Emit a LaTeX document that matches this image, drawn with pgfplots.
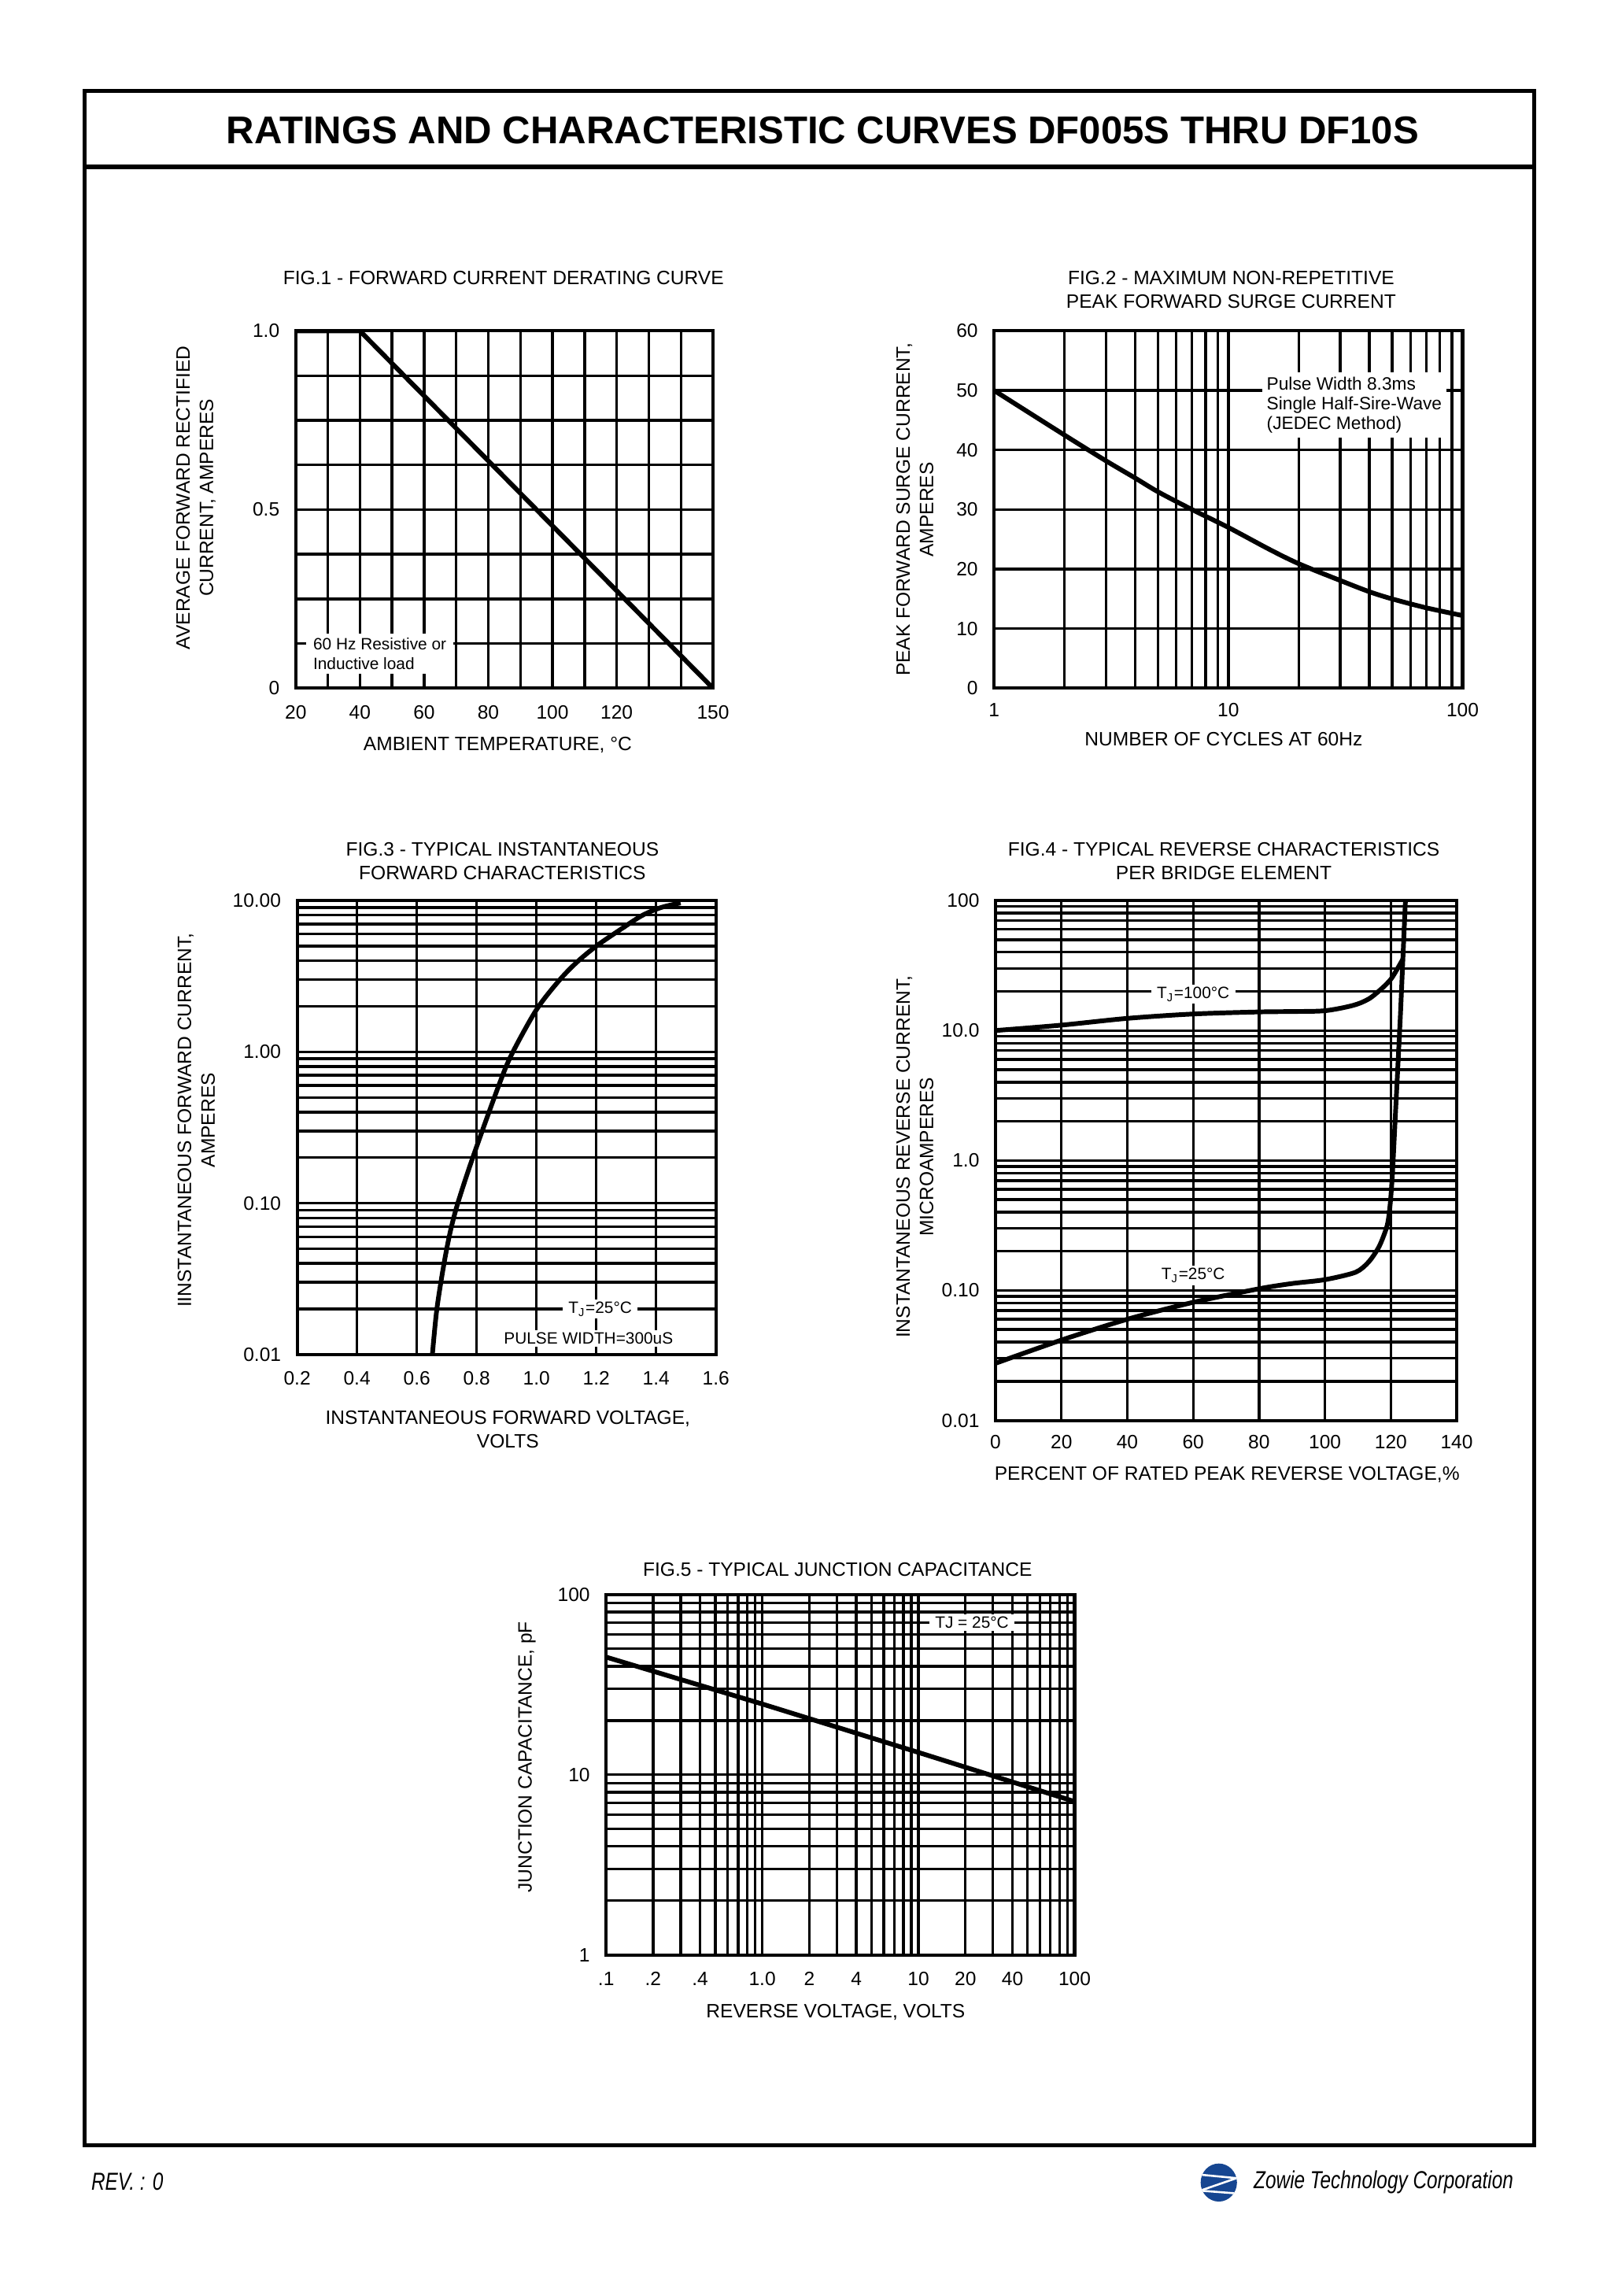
\documentclass[border=0pt]{standalone}
\usepackage{fontspec}
\setmainfont{Liberation Sans}
\newfontfamily\footfont[FakeStretch=0.78]{Liberation Sans}
\usepackage{pgfplots}
\pgfplotsset{compat=1.18}
\newcommand\fa{\fontsize{6.6}{8}\selectfont}
\newcommand\fb{\fontsize{5.6}{6.6}\selectfont}
\newcommand\fc{\fontsize{6.1}{6.75}\selectfont}
\definecolor{zblue}{RGB}{22,70,145}
\pgfplotsset{
  ds/.style={
    scale only axis, anchor=north west,
    axis line style={line width=1.1pt},
    grid=both,
    major grid style={line width=0.9pt, black},
    minor grid style={line width=0.9pt, black},
    major tick length=0pt, minor tick length=0pt,
    tick style={draw=none},
    ticklabel style={font=\fa},
    /pgf/number format/assume math mode=true,
    xticklabel shift=2.3pt, yticklabel shift=2pt,
    every axis title shift=0pt,
    title style={font=\fa, align=center, anchor=center},
    xlabel style={font=\fa, align=center, anchor=center},
    ylabel style={font=\fa, align=center, anchor=center},
  },
  curve/.style={black, line width=1.6pt, no markers},
}
\begin{document}
\begin{tikzpicture}
\path[use as bounding box] (0,0) rectangle (552.5pt,-784pt);
% page frame
\draw[line width=1.3pt] (29pt,-31pt) rectangle (524pt,-732.5pt);
\draw[line width=1.5pt] (29pt,-57pt) -- (524pt,-57pt);
\node[font=\fontsize{13.2}{15}\selectfont\bfseries] at (281pt,-44.5pt) {RATINGS AND CHARACTERISTIC CURVES DF005S THRU DF10S};

% ---------------- FIG 1
\begin{axis}[ds, at={(101pt,-113pt)}, width=142.5pt, height=122pt,
  xmin=20, xmax=150, ymin=0, ymax=1,
  xtick={20,40,60,80,100,120,150}, xticklabels={20,40,60,80,100,120,150},
  minor xtick={30,50,70,90,110,130,140},
  ytick={0,0.5,1}, yticklabels={0,0.5,1.0},
  minor ytick={0.125,0.25,0.375,0.625,0.75,0.875},
  title={FIG.1 - FORWARD CURRENT DERATING CURVE},
  title style={at={(axis description cs:0.498,1.148)}},
  xlabel={AMBIENT TEMPERATURE, °C},
  xlabel style={at={(axis description cs:0.484,-0.16)}},
  ylabel={AVERAGE FORWARD RECTIFIED\\CURRENT, AMPERES},
  ylabel style={at={(axis description cs:-0.239,0.533)}},
]
\addplot[curve] coordinates {(20,1) (40,1) (150,0)};
\node[fill=white, anchor=west, align=left, inner xsep=2.5pt, inner ysep=1.5pt, font=\fb] at (axis cs:23,0.097) {60 Hz Resistive or\\Inductive load};
\end{axis}

% ---------------- FIG 2
\begin{axis}[ds, at={(339.5pt,-113pt)}, width=160pt, height=122pt,
  xmode=log, xmin=1, xmax=100, ymin=0, ymax=60,
  xticklabel shift=1.6pt,
  xtick={1,10,100}, xticklabels={1,10,100},
  minor xtick={2,3,4,5,6,7,8,9,20,30,40,50,60,70,80,90},
  ytick={0,10,20,30,40,50,60}, yticklabels={0,10,20,30,40,50,60},
  title={FIG.2 - MAXIMUM NON-REPETITIVE\\PEAK FORWARD SURGE CURRENT},
  title style={at={(axis description cs:0.506,1.115)}},
  xlabel={NUMBER OF CYCLES AT 60Hz},
  xlabel style={at={(axis description cs:0.49,-0.143)}},
  ylabel={PEAK FORWARD SURGE CURRENT,\\AMPERES},
  ylabel style={at={(axis description cs:-0.169,0.5)}},
]
\addplot[curve, smooth] coordinates {(1,50) (2,42.5) (3,38.2) (4,35.3) (5,33) (7,30) (10,27) (15,23.3) (20,20.9) (30,18.1) (40,16.2) (50,15) (70,13.5) (100,12.2)};
\node[fill=white, anchor=west, align=left, inner xsep=1.5pt, inner ysep=1.5pt, font=\fc] at (axis cs:13.9,47.6) {Pulse Width 8.3ms\\Single Half-Sire-Wave\\(JEDEC Method)};
\end{axis}

% ---------------- FIG 3
\begin{axis}[ds, at={(101.5pt,-307.5pt)}, width=143pt, height=155pt,
  ymode=log, xmin=0.2, xmax=1.6, ymin=0.01, ymax=10,
  xtick={0.2,0.4,0.6,0.8,1.0,1.2,1.4,1.6}, xticklabels={0.2,0.4,0.6,0.8,1.0,1.2,1.4,1.6},
  ytick={0.01,0.1,1,10}, yticklabels={0.01,0.10,1.00,10.00},
  minor ytick={0.02,0.03,0.04,0.05,0.06,0.07,0.08,0.09,0.2,0.3,0.4,0.5,0.6,0.7,0.8,0.9,2,3,4,5,6,7,8,9},
  title={FIG.3 - TYPICAL INSTANTANEOUS\\FORWARD CHARACTERISTICS},
  title style={at={(axis description cs:0.49,1.087)}},
  xlabel={INSTANTANEOUS FORWARD VOLTAGE,\\VOLTS},
  xlabel style={at={(axis description cs:0.503,-0.165)}},
  ylabel={IINSTANTANEOUS FORWARD CURRENT,\\AMPERES},
  ylabel style={at={(axis description cs:-0.241,0.516)}},
]
\addplot[curve, smooth] coordinates {(0.652,0.01) (0.667,0.02) (0.691,0.04) (0.712,0.065) (0.737,0.1) (0.787,0.2) (0.874,0.6) (0.918,0.97) (1.0,1.9) (1.075,2.95) (1.133,3.88) (1.2,5.0) (1.294,6.7) (1.355,8.0) (1.417,9.0) (1.482,9.65)};
\node[fill=white, inner xsep=2pt, inner ysep=0.8pt, font=\fb] at (axis cs:1.213,0.02) {T\textsubscript{J}=25°C};
\node[fill=white, inner xsep=2pt, inner ysep=0.8pt, font=\fb] at (axis cs:1.174,0.0128) {PULSE WIDTH=300uS};
\end{axis}

% ---------------- FIG 4
\begin{axis}[ds, at={(340pt,-307.5pt)}, width=157.5pt, height=177.5pt,
  ymode=log, xmin=0, xmax=140, ymin=0.01, ymax=100,
  xticklabel shift=1.6pt,
  xtick={0,20,40,60,80,100,120,140}, xticklabels={0,20,40,60,80,100,120,140},
  ytick={0.01,0.1,1,10,100}, yticklabels={0.01,0.10,1.0,10.0,100},
  minor ytick={0.02,0.03,0.04,0.05,0.06,0.07,0.08,0.09,0.2,0.3,0.4,0.5,0.6,0.7,0.8,0.9,2,3,4,5,6,7,8,9,20,30,40,50,60,70,80,90},
  title={FIG.4 - TYPICAL REVERSE CHARACTERISTICS\\PER BRIDGE ELEMENT},
  title style={at={(axis description cs:0.495,1.076)}},
  xlabel={PERCENT OF RATED PEAK REVERSE VOLTAGE,\%},
  xlabel style={at={(axis description cs:0.502,-0.104)}},
  ylabel={INSTANTANEOUS REVERSE CURRENT,\\MICROAMPERES},
  ylabel style={at={(axis description cs:-0.175,0.507)}},
]
\addplot[curve, smooth, tension=0.5] coordinates {(0,10) (20,11) (40,12.4) (60,13.4) (80,13.9) (90,14) (100,14.2) (108.5,15.6) (113.3,17.5) (117.3,21.1) (120,24.8) (122,29.9) (123.6,35.2)};
\addplot[curve, smooth, tension=0.45] coordinates {(0,0.0275) (20,0.0415) (40,0.06) (60,0.081) (80,0.103) (90,0.113) (100,0.121) (109.3,0.138) (113.3,0.166) (116.5,0.219) (118.9,0.317) (119.8,0.46) (120.5,0.8) (121.3,2.03) (122.1,5.1) (122.9,13) (123.6,32.8) (124.4,95) (124.5,100)};
\node[fill=white, inner xsep=2pt, inner ysep=0.8pt, font=\fb] at (axis cs:60,19) {T\textsubscript{J}=100°C};
\node[fill=white, inner xsep=2pt, inner ysep=0.8pt, font=\fb] at (axis cs:60,0.13) {T\textsubscript{J}=25°C};
\end{axis}

% ---------------- FIG 5
\begin{axis}[ds, at={(207pt,-544.5pt)}, width=160pt, height=123pt,
  xmode=log, ymode=log, xmin=0.1, xmax=100, ymin=1, ymax=100,
  xtick={0.1,0.2,0.4,1,2,4,10,20,40,100}, xticklabels={.1,.2,.4,1.0,2,4,10,20,40,100},
  minor xtick={0.3,0.5,0.6,0.7,0.8,0.9,3,5,6,7,8,9,30,50,60,70,80,90},
  ytick={1,10,100}, yticklabels={1,10,100},
  minor ytick={2,3,4,5,6,7,8,9,20,30,40,50,60,70,80,90},
  title={FIG.5 - TYPICAL JUNCTION CAPACITANCE},
  title style={at={(axis description cs:0.494,1.069)}},
  xlabel={REVERSE VOLTAGE, VOLTS},
  xlabel style={at={(axis description cs:0.49,-0.159)}},
  ylabel={JUNCTION CAPACITANCE, pF},
  ylabel style={at={(axis description cs:-0.169,0.549)}},
]
\addplot[curve] coordinates {(0.1,45) (1,24.7) (10,13.3) (100,7.1)};
\node[fill=white, inner xsep=2pt, inner ysep=0.8pt, font=\fb] at (axis cs:22,70) {TJ = 25°C};
\end{axis}

% ---------------- footer
\node[anchor=west, inner sep=0pt, font=\footfont\fontsize{8.4}{10}\selectfont\itshape] at (31pt,-745pt) {REV. : 0};
\node[anchor=west, inner sep=0pt, font=\footfont\fontsize{8.4}{10}\selectfont\itshape] at (428pt,-745pt) {Zowie Technology Corporation};
\begin{scope}[shift={(416.25pt,-745.25pt)}, x=6.2pt, y=6.5pt]
  \fill[zblue] (0,0) circle (1);
  \begin{scope}
    \clip (0,0) circle (1);
    \draw[white, line width=0.7pt] (-1.1,0.42) -- (1.1,0.22);
    \draw[white, line width=0.7pt] (1.0,0.24) -- (-1.0,-0.42);
    \draw[white, line width=0.7pt] (-1.1,-0.42) -- (1.1,-0.58);
  \end{scope}
\end{scope}
\end{tikzpicture}
\end{document}
